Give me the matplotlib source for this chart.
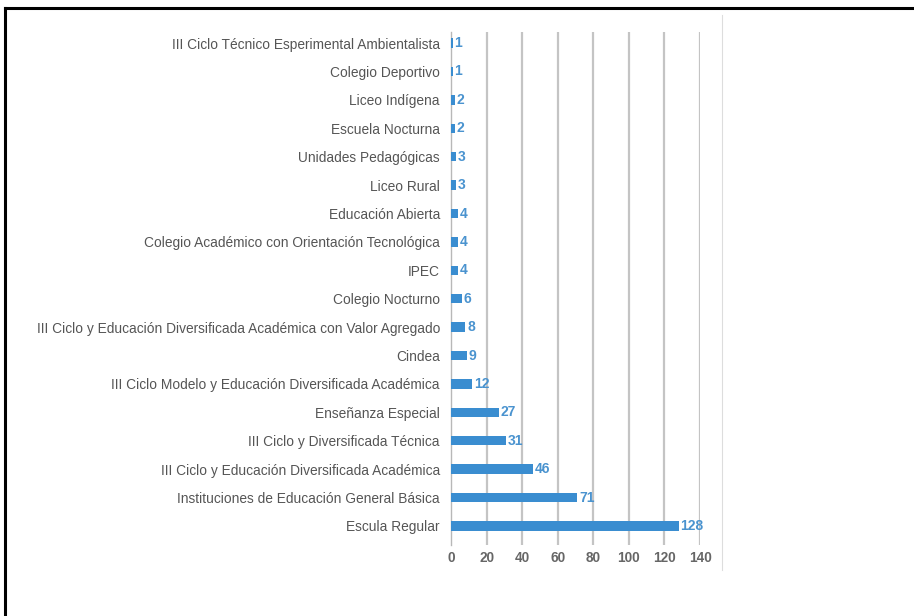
import matplotlib.pyplot as plt
from matplotlib.lines import Line2D

# --- datos: instituciones por tipo ---
categorias = [
    "III Ciclo Técnico Esperimental Ambientalista",
    "Colegio Deportivo",
    "Liceo Indígena",
    "Escuela Nocturna",
    "Unidades Pedagógicas",
    "Liceo Rural",
    "Educación Abierta",
    "Colegio Académico con Orientación Tecnológica",
    "IPEC",
    "Colegio Nocturno",
    "III Ciclo y Educación Diversificada Académica con Valor Agregado",
    "Cindea",
    "III Ciclo Modelo y Educación Diversificada Académica",
    "Enseñanza Especial",
    "III Ciclo y Diversificada Técnica",
    "III Ciclo y Educación Diversificada Académica",
    "Instituciones de Educación General Básica",
    "Escula Regular",
]
valores = [1, 1, 2, 2, 3, 3, 4, 4, 4, 6, 8, 9, 12, 27, 31, 46, 71, 128]
ticks_x = [0, 20, 40, 60, 80, 100, 120, 140]

plt.rcParams['font.family'] = ['Liberation Sans', 'DejaVu Sans']

AZUL = '#3a8dd0'
GRIS_TXT = '#555555'

fig = plt.figure(figsize=(9.14, 6.16), dpi=100)
ax = fig.add_axes([451 / 914, 1 - 545 / 616, 249 / 914, 513 / 616])

pos = list(range(len(categorias)))
ax.barh(pos, valores, height=0.33, color=AZUL, zorder=3)

for y, v in zip(pos, valores):
    ax.text(v + 1.0, y, str(v), va='center', ha='left', fontsize=10,
            fontweight='bold', color='#4a93cf', zorder=4, clip_on=False)

ax.set_xlim(0, 140)
ax.set_ylim(17.67, -0.39)
ax.set_yticks(pos)
ax.set_yticklabels(categorias, fontsize=9.9, color=GRIS_TXT)
ax.set_xticks(ticks_x)
ax.set_xticklabels([str(t) for t in ticks_x], fontsize=9.8,
                   fontweight='bold', color='#666666')
ax.tick_params(axis='both', length=0)
ax.tick_params(axis='y', pad=8)
ax.tick_params(axis='x', pad=4)

for t in ticks_x[1:]:
    ax.axvline(t, color='#c4c4c4', linewidth=1.6, zorder=1)
for s in ['top', 'right', 'bottom']:
    ax.spines[s].set_visible(False)
ax.spines['left'].set_color('#b8b8b8')
ax.spines['left'].set_linewidth(1.0)

# borde del panel y marco exterior
fig.add_artist(Line2D([722 / 914, 722 / 914], [1 - 15 / 616, 1 - 570 / 616],
                      color='#dddddd', linewidth=0.8))
fig.add_artist(Line2D([5 / 914, 1.0], [1 - 8 / 616, 1 - 8 / 616],
                      color='black', linewidth=2.2, solid_capstyle='projecting'))
fig.add_artist(Line2D([5 / 914, 5 / 914], [1 - 8 / 616, 0.0],
                      color='black', linewidth=2.2, solid_capstyle='projecting'))

fig.savefig('out.png', dpi=100)
